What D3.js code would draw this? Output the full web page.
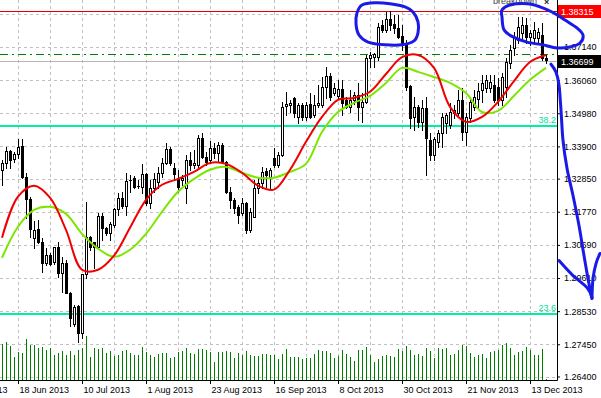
<!DOCTYPE html>
<html><head><meta charset="utf-8">
<script src="https://cdn.jsdelivr.net/npm/d3@7/dist/d3.min.js"></script>
<style>
body{margin:0;background:#fff}
svg{display:block}
text{font-family:"Liberation Sans",Arial,sans-serif;font-size:9px}
</style>
</head><body>
<svg id="chart" width="601" height="398"></svg>
<script>
// EURUSD daily, 12 Jun 2013 .. 19 Dec 2013 (bar index 0..136)
const opens = [1.3314,1.3336,1.3376,1.3350,1.3366,1.3392,1.3291,1.3219,1.3092,1.3122,
1.3079,1.3011,1.3037,1.3014,1.3063,1.2978,1.3011,1.2913,1.2812,1.2871,
1.2783,1.2975,1.3096,1.3079,1.3063,1.3164,1.3125,1.3109,1.3135,1.3187,
1.3222,1.3196,1.3278,1.3288,1.3258,1.3258,1.3301,1.3206,1.3255,1.3275,
1.3304,1.3336,1.3382,1.3320,1.3288,1.3281,1.3255,1.3346,1.3330,1.3330,
1.3418,1.3356,1.3346,1.3385,1.3369,1.3395,1.3340,1.3242,1.3216,1.3193,
1.3174,1.3206,1.3118,1.3161,1.3255,1.3271,1.3310,1.3291,1.3353,1.3330,
1.3362,1.3522,1.3525,1.3548,1.3486,1.3525,1.3486,1.3529,1.3493,1.3525,
1.3525,1.3584,1.3620,1.3564,1.3555,1.3577,1.3542,1.3519,1.3542,1.3558,
1.3519,1.3535,1.3678,1.3681,1.3681,1.3786,1.3769,1.3805,1.3789,1.3776,
1.3750,1.3724,1.3587,1.3486,1.3519,1.3470,1.3515,1.3411,1.3362,1.3405,
1.3434,1.3467,1.3460,1.3499,1.3499,1.3542,1.3437,1.3483,1.3519,1.3545,
1.3574,1.3581,1.3581,1.3590,1.3584,1.3542,1.3584,1.3662,1.3711,1.3737,
1.3760,1.3786,1.3747,1.3743,1.3743,1.3753,1.3678];
const highs = [1.3346,1.3389,1.3379,1.3372,1.3415,1.3415,1.3304,1.3226,1.3148,1.3151,
1.3092,1.3060,1.3044,1.3063,1.3079,1.3030,1.3021,1.2917,1.2874,1.2874,
1.2975,1.3210,1.3099,1.3079,1.3174,1.3174,1.3128,1.3144,1.3190,1.3239,
1.3242,1.3304,1.3297,1.3294,1.3281,1.3333,1.3304,1.3281,1.3304,1.3323,
1.3353,1.3402,1.3389,1.3336,1.3314,1.3297,1.3362,1.3372,1.3379,1.3428,
1.3434,1.3372,1.3408,1.3402,1.3405,1.3402,1.3343,1.3258,1.3222,1.3200,
1.3222,1.3210,1.3190,1.3281,1.3288,1.3323,1.3320,1.3320,1.3385,1.3372,
1.3535,1.3568,1.3542,1.3551,1.3532,1.3532,1.3535,1.3564,1.3558,1.3590,
1.3616,1.3649,1.3629,1.3597,1.3607,1.3607,1.3551,1.3574,1.3568,1.3597,
1.3564,1.3688,1.3698,1.3694,1.3792,1.3802,1.3828,1.3831,1.3818,1.3818,
1.3786,1.3737,1.3590,1.3551,1.3525,1.3542,1.3551,1.3434,1.3421,1.3444,
1.3499,1.3499,1.3532,1.3525,1.3574,1.3581,1.3499,1.3542,1.3574,1.3597,
1.3623,1.3623,1.3623,1.3623,1.3613,1.3629,1.3678,1.3720,1.3763,1.3812,
1.3812,1.3808,1.3769,1.3795,1.3776,1.3792,1.3688];
const lows = [1.3265,1.3320,1.3320,1.3340,1.3353,1.3288,1.3157,1.3096,1.3060,1.3076,
1.2982,1.3004,1.3004,1.3008,1.2965,1.2917,1.2913,1.2803,1.2803,1.2754,
1.2767,1.2962,1.3053,1.2995,1.3060,1.3086,1.3102,1.3086,1.3128,1.3167,
1.3190,1.3167,1.3242,1.3255,1.3255,1.3239,1.3200,1.3190,1.3242,1.3255,
1.3291,1.3333,1.3330,1.3281,1.3242,1.3265,1.3206,1.3314,1.3320,1.3323,
1.3353,1.3330,1.3336,1.3353,1.3340,1.3336,1.3239,1.3190,1.3174,1.3141,
1.3167,1.3109,1.3112,1.3161,1.3239,1.3255,1.3258,1.3255,1.3323,1.3323,
1.3359,1.3493,1.3502,1.3486,1.3467,1.3476,1.3476,1.3483,1.3486,1.3519,
1.3519,1.3548,1.3542,1.3558,1.3548,1.3493,1.3515,1.3502,1.3529,1.3476,
1.3470,1.3532,1.3649,1.3649,1.3672,1.3763,1.3763,1.3769,1.3760,1.3743,
1.3704,1.3574,1.3450,1.3444,1.3454,1.3444,1.3297,1.3346,1.3346,1.3389,
1.3389,1.3434,1.3450,1.3483,1.3486,1.3411,1.3395,1.3470,1.3509,1.3515,
1.3535,1.3568,1.3568,1.3535,1.3525,1.3525,1.3551,1.3646,1.3688,1.3727,
1.3737,1.3727,1.3720,1.3727,1.3730,1.3672,1.3662];
const closes = [1.3336,1.3376,1.3346,1.3366,1.3389,1.3291,1.3219,1.3122,1.3118,1.3079,
1.3011,1.3037,1.3008,1.3063,1.2978,1.3011,1.2913,1.2832,1.2868,1.2783,
1.2975,1.3096,1.3063,1.3063,1.3164,1.3125,1.3109,1.3138,1.3187,1.3222,
1.3196,1.3278,1.3281,1.3258,1.3262,1.3301,1.3206,1.3255,1.3284,1.3304,
1.3336,1.3382,1.3336,1.3301,1.3258,1.3288,1.3346,1.3330,1.3336,1.3418,
1.3356,1.3340,1.3385,1.3369,1.3395,1.3340,1.3242,1.3216,1.3190,1.3167,
1.3206,1.3118,1.3177,1.3255,1.3271,1.3307,1.3297,1.3314,1.3330,1.3362,
1.3519,1.3529,1.3532,1.3499,1.3525,1.3486,1.3525,1.3486,1.3525,1.3532,
1.3584,1.3620,1.3551,1.3581,1.3577,1.3532,1.3519,1.3542,1.3558,1.3519,
1.3535,1.3678,1.3688,1.3691,1.3779,1.3769,1.3805,1.3786,1.3776,1.3747,
1.3724,1.3584,1.3483,1.3519,1.3470,1.3515,1.3418,1.3362,1.3415,1.3434,
1.3486,1.3493,1.3502,1.3509,1.3542,1.3437,1.3486,1.3535,1.3551,1.3571,
1.3597,1.3607,1.3600,1.3542,1.3542,1.3616,1.3665,1.3704,1.3743,1.3779,
1.3786,1.3747,1.3760,1.3769,1.3763,1.3678,1.3670];
// tick volume (thousands)
const volumes = [36,38,34,23,28,27,41,35,35,32,33,30,32,25,27,29,25,29,25,30,
32,44,23,32,31,32,27,29,24,25,29,30,27,25,25,33,28,25,23,26,
27,27,22,23,28,29,32,27,26,31,31,30,28,18,28,28,29,28,22,27,
25,29,25,24,24,26,26,25,25,21,26,31,23,23,23,21,22,22,26,30,
29,29,27,22,24,30,26,23,19,30,30,33,25,18,21,24,25,24,23,31,
29,34,30,25,26,24,32,29,22,32,31,32,25,26,30,35,34,27,23,25,
26,22,28,29,30,35,37,32,25,28,29,33,30,25,25,31,1];
// moving averages, read every 4th bar (bar 0,4,8,...,136)
const maFast = [1.3092,1.3226,1.3262,1.3223,1.3118,1.2988,1.2988,1.3034,1.3125,1.3216,
1.3265,1.3284,1.3307,1.3336,1.3333,1.3304,1.3262,1.3249,1.3314,1.3405,
1.3486,1.3542,1.3548,1.3568,1.3626,1.3681,1.3688,1.3646,1.3519,1.3470,
1.3486,1.3535,1.3603,1.3665,1.3688];
const maSlow = [1.3027,1.3128,1.3183,1.3193,1.3170,1.3105,1.3057,1.3030,1.3053,1.3105,
1.3177,1.3242,1.3284,1.3314,1.3323,1.3304,1.3288,1.3288,1.3307,1.3333,
1.3437,1.3502,1.3532,1.3555,1.3597,1.3646,1.3633,1.3616,1.3597,1.3564,
1.3502,1.3506,1.3555,1.3607,1.3646];
// grid levels; the top one's label sits under the red price tag
const gridTicks = [1.38220,1.37140,1.36060,1.34980,1.33900,1.32850,1.31770,1.30690,1.29610,1.28530,1.27450,1.26400];
const priceTicks = [1.37140,1.36060,1.34980,1.33900,1.32850,1.31770,1.30690,1.29610,1.28530,1.27450,1.26400];
const dateLabels = ["27 May 2013","18 Jun 2013","10 Jul 2013","1 Aug 2013","23 Aug 2013","16 Sep 2013","8 Oct 2013","30 Oct 2013","21 Nov 2013","13 Dec 2013"];
const resistance = 1.38315, bid = 1.36699, dashLevel = 1.3691;
const fibLevels = [{label:"38.2", price:1.3457},{label:"23.6", price:1.2844}];
// hand-drawn annotations in (bar index, price)
const circle1 = [[88.75,1.3825],[90,1.3851],[93.25,1.3858],[97,1.3855],[100.75,1.3845],[102.75,1.3828],[104,1.3796],[104,1.3760],[103,1.3734],[100,1.3721],[95.75,1.3721],[91.5,1.3730],[89.25,1.3753],[88.5,1.3789]];
const circle2 = [[125,1.3812],[125,1.3835],[127,1.3851],[131.25,1.3855],[134.5,1.3845],[137.5,1.3828],[140.75,1.3802],[143.75,1.3776],[145.25,1.3753],[144.5,1.3727],[142,1.3714],[138.75,1.3711],[135.25,1.3721],[131.25,1.3730],[127.75,1.3747],[125.5,1.3770]];
const arrowStem = [[137.25,1.3658],[138.5,1.3632],[139.25,1.3590],[139.75,1.3508],[140.25,1.3410],[141.25,1.3319],[142.75,1.3230],[144.25,1.3132],[145.5,1.3034],[146.5,1.2959],[147.5,1.2894]];
const arrowLeft = [[139.25,1.3018],[142.75,1.2969],[146.25,1.2930],[147.5,1.2897]];
const arrowRight = [[147.5,1.2897],[147.75,1.2959],[148.5,1.3008],[149.5,1.3041]];

const plotR = 557, plotB = 380;
const svg = d3.select("#chart");
const x = d3.scaleLinear().domain([0,136]).range([2,546]);
const y = d3.scaleLinear().domain([1.2640,1.3714]).range([376.5,47]);
const vy = d3.scaleLinear().domain([0,100]).range([plotB,plotB-100]);
const n = opens.length;

// grid
const grid = svg.append("g").attr("shape-rendering","crispEdges");
grid.selectAll("line.h").data(gridTicks).join("line")
  .attr("x1",0).attr("x2",plotR).attr("y1",d=>Math.round(y(d))+0.5).attr("y2",d=>Math.round(y(d))+0.5)
  .attr("stroke","#c0c0c0").attr("stroke-dasharray","3,3");
grid.selectAll("line.v").data(d3.range(-4,137,8)).join("line")
  .attr("y1",0).attr("y2",plotB).attr("x1",d=>Math.round(x(d))+0.5).attr("x2",d=>Math.round(x(d))+0.5)
  .attr("stroke","#c0c0c0").attr("stroke-dasharray","3,3");

// horizontal levels
const lv = svg.append("g").attr("shape-rendering","crispEdges");
lv.append("line").attr("x1",0).attr("x2",plotR).attr("y1",Math.round(y(resistance))+0.5).attr("y2",Math.round(y(resistance))+0.5).attr("stroke","#e00000");
lv.append("line").attr("x1",0).attr("x2",plotR).attr("y1",Math.round(y(bid))+0.5).attr("y2",Math.round(y(bid))+0.5).attr("stroke","#b4b4b4");
lv.append("line").attr("x1",0).attr("x2",plotR).attr("y1",Math.round(y(dashLevel))+0.5).attr("y2",Math.round(y(dashLevel))+0.5)
  .attr("stroke","#008000").attr("stroke-dasharray","8,4,2,4");
fibLevels.forEach(f=>{
  lv.append("line").attr("x1",0).attr("x2",plotR).attr("y1",Math.round(y(f.price))).attr("y2",Math.round(y(f.price)))
    .attr("stroke","#00f0a0").attr("stroke-width",2);
  svg.append("text").attr("x",plotR-1).attr("y",Math.round(y(f.price))-3).attr("text-anchor","end")
    .attr("fill","#00e0a0").attr("font-size","10px").text(f.label);
});

// volumes
svg.append("g").attr("shape-rendering","crispEdges").selectAll("line").data(volumes).join("line")
  .attr("x1",(d,i)=>Math.round(x(i))+0.5).attr("x2",(d,i)=>Math.round(x(i))+0.5)
  .attr("y1",plotB).attr("y2",d=>Math.round(vy(d)))
  .attr("stroke","#008000").attr("stroke-width",1);

// candles
const cg = svg.append("g").attr("shape-rendering","crispEdges");
for(let i=0;i<n;i++){
  const c = Math.round(x(i));
  const o=opens[i], cl=closes[i];
  const yh=Math.round(y(highs[i])), yl=Math.round(y(lows[i]));
  const top=Math.round(y(Math.max(o,cl))), bot=Math.round(y(Math.min(o,cl)));
  cg.append("line").attr("x1",c+0.5).attr("x2",c+0.5).attr("y1",yh).attr("y2",yl+1).attr("stroke","#000");
  if(bot-top<=1){
    cg.append("rect").attr("x",c-1).attr("y",top).attr("width",3).attr("height",1).attr("fill","#000");
  } else if(cl<o){
    cg.append("rect").attr("x",c-1).attr("y",top).attr("width",3).attr("height",bot-top+1).attr("fill","#000");
  } else {
    cg.append("rect").attr("x",c-0.5).attr("y",top+0.5).attr("width",2).attr("height",bot-top)
      .attr("fill","#fff").attr("stroke","#000");
  }
}

// moving averages
const line = d3.line().x(d=>x(d[0])).y(d=>y(d[1])).curve(d3.curveCatmullRom);
svg.append("path").attr("d",line(maSlow.map((v,k)=>[k*4,v]))).attr("fill","none").attr("stroke","#7ce600").attr("stroke-width",2);
svg.append("path").attr("d",line(maFast.map((v,k)=>[k*4,v]))).attr("fill","none").attr("stroke","#f00000").attr("stroke-width",2);

// axes
const ya = svg.append("g").attr("transform",`translate(${plotR},0)`)
  .call(d3.axisRight(y).tickValues(priceTicks).tickFormat(d3.format(".5f")).tickSize(3).tickPadding(4));
ya.select(".domain").remove();
ya.selectAll("text").attr("font-size","9px").attr("font-family","Liberation Sans, Arial, sans-serif").attr("fill","#000");
ya.selectAll("line").attr("stroke","#000");
const xa = svg.append("g").attr("transform",`translate(0,${plotB})`)
  .call(d3.axisBottom(x).tickValues(dateLabels.map((d,k)=>-12+16*k)).tickFormat((d,k)=>dateLabels[k]).tickSize(4));
xa.select(".domain").remove();
xa.selectAll("text").attr("text-anchor","start").attr("x",1).attr("y",13).attr("dy",0)
  .attr("font-size","9px").attr("font-family","Liberation Sans, Arial, sans-serif").attr("fill","#000");
xa.selectAll("line").attr("stroke","#000");
svg.append("line").attr("x1",0).attr("x2",plotR+0.5).attr("y1",plotB+0.5).attr("y2",plotB+0.5).attr("stroke","#000");
svg.append("line").attr("x1",plotR+0.5).attr("x2",plotR+0.5).attr("y1",0).attr("y2",plotB+0.5).attr("stroke","#000");

// price labels
function tag(p, bg){
  const yy = y(p);
  svg.append("rect").attr("x",plotR+1).attr("y",Math.round(yy)-6).attr("width",44).attr("height",13).attr("fill",bg);
  svg.append("text").attr("x",plotR+4).attr("y",Math.round(yy)+3.5).attr("fill","#fff").text(d3.format(".5f")(p));
}
tag(resistance,"#ff0000");
tag(bid,"#000000");

// object label
svg.append("text").attr("x",493).attr("y",4).attr("fill","#444").text("breakdown");
svg.append("text").attr("x",544).attr("y",5).attr("fill","#222").attr("font-weight","bold").attr("font-size","10px").text("×");

// hand-drawn annotations
const pen = d3.line().x(d=>x(d[0])).y(d=>y(d[1]));
const blue = "#1a1ae8";
svg.append("path").attr("d",pen.curve(d3.curveCardinalClosed)(circle1)).attr("fill","none").attr("stroke",blue).attr("stroke-width",3);
svg.append("path").attr("d",pen.curve(d3.curveCardinalClosed)(circle2)).attr("fill","none").attr("stroke",blue).attr("stroke-width",3);
[arrowStem,arrowLeft,arrowRight].forEach(a=>{
  svg.append("path").attr("d",pen.curve(d3.curveCardinal)(a)).attr("fill","none").attr("stroke",blue)
    .attr("stroke-width",3).attr("stroke-linecap","round");
});
</script>
</body></html>
